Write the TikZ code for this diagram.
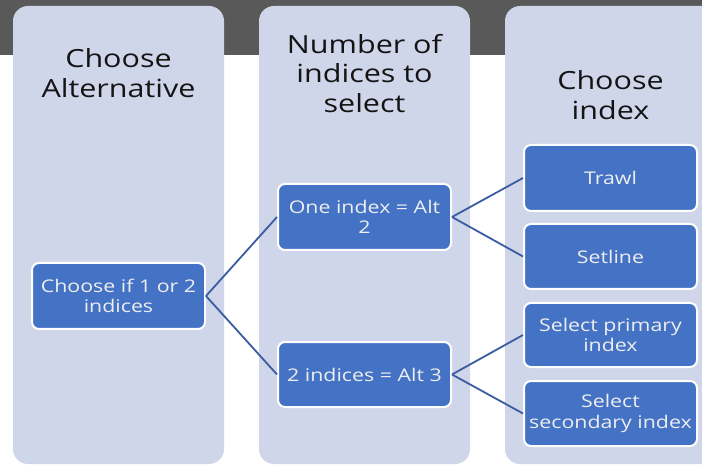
\documentclass[tikz,border=0pt]{standalone}
\usepackage{fontspec}
\setmainfont{Open Sans}[FakeStretch=1.22]
\definecolor{band}{RGB}{89,89,89}
\definecolor{colfill}{RGB}{208,214,234}
\definecolor{boxfill}{RGB}{68,114,196}
\definecolor{boxtext}{RGB}{238,238,240}
\definecolor{linkcol}{RGB}{58,92,160}
\definecolor{headtext}{RGB}{20,20,20}
\begin{document}
\begin{tikzpicture}[x=1pt,y=-1pt,
  column/.style={fill=colfill,rounded corners=15pt},
  header/.style={align=center,inner sep=0pt,text=headtext,font=\fontsize{25}{29.5}\selectfont},
  stepbox/.style={draw=white,line width=2pt,fill=boxfill,rounded corners=7pt,
    minimum width=173pt,align=center,text=boxtext,inner sep=2pt,
    font=\fontsize{17.5}{20.5}\selectfont},
  link/.style={draw=linkcol,line width=1.8pt}]
\useasboundingbox (0,0) rectangle (702,465);
\clip (0,0) rectangle (702,465);
\fill[band] (0,0) rectangle (702,55);
% columns
\path[column] (13,6) rectangle (224,464);
\path[column] (259,6) rectangle (470,464);
\path[column] (505,6) rectangle (716,464);
% headers
\node[header] (h1) at (118.5,73) {Choose\\Alternative};
\node[header] (h2) at (364.5,73.5) {Number of\\indices to\\select};
\node[header] (h3) at (610.5,95) {Choose\\index};
% boxes
\node[stepbox,minimum height=66pt] (b1) at (118.5,296) {Choose if 1 or 2\\indices};
\node[stepbox,minimum height=66pt] (b2) at (364.5,217) {One index = Alt\\2};
\node[stepbox,minimum height=65pt] (b3) at (364.5,374.5) {2 indices = Alt 3};
\node[stepbox,minimum height=66pt] (c1) at (610.5,178) {Trawl};
\node[stepbox,minimum height=65pt] (c2) at (610.5,256.5) {Setline};
\node[stepbox,minimum height=64pt] (c3) at (610.5,335) {Select primary\\index};
\node[stepbox,minimum height=65pt] (c4) at (610.5,413.5) {Select\\secondary index};
% connectors
\draw[link] (b1.east) -- (b2.west);
\draw[link] (b1.east) -- (b3.west);
\draw[link] (b2.east) -- (c1.west);
\draw[link] (b2.east) -- (c2.west);
\draw[link] (b3.east) -- (c3.west);
\draw[link] (b3.east) -- (c4.west);
\end{tikzpicture}
\end{document}
